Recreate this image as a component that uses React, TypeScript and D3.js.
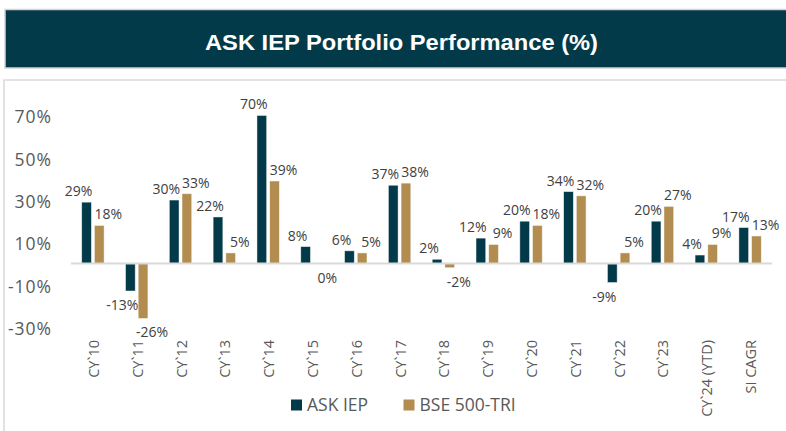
import React from 'react';
import * as d3 from 'd3';

const categories = [
  'CY`10', 'CY`11', 'CY`12', 'CY`13', 'CY`14', 'CY`15', 'CY`16', 'CY`17',
  'CY`18', 'CY`19', 'CY`20', 'CY`21', 'CY`22', 'CY`23', 'CY`24 (YTD)', 'SI CAGR',
];
const askIep = [29, -13, 30, 22, 70, 8, 6, 37, 2, 12, 20, 34, -9, 20, 4, 17];
const bse500 = [18, -26, 33, 5, 39, 0, 5, 38, -2, 9, 18, 32, 5, 27, 9, 13];
const seriesNames = ['ASK IEP', 'BSE 500-TRI'];
const yTicks = [70, 50, 30, 10, -10, -30];

const W = 786;
const H = 431;
const DARK = '#033a49';
const GOLD = '#b28d4f';
const LABEL = '#404040';
const AXIS_TEXT = '#595959';
const FONT = "'Open Sans', 'Noto Sans', sans-serif";

const App = () => {
  const x = d3.scaleBand<string>().domain(categories).range([71, 772]);
  const zeroY = 263.5;
  const perPct = 2.115;
  const y = d3.scaleLinear().domain([-30, 70]).range([zeroY + 30 * perPct, zeroY - 70 * perPct]);

  const bw = x.bandwidth();
  const sub = d3.scaleBand<string>()
    .domain(seriesNames)
    .range([bw / 2 - 11.2, bw / 2 + 11.2])
    .paddingInner(0.236);

  const series = [
    { name: seriesNames[0], values: askIep, color: DARK, dx: -8 },
    { name: seriesNames[1], values: bse500, color: GOLD, dx: 9 },
  ];

  return (
    <svg width={W} height={H} style={{ position: 'absolute', left: 0, top: 0, background: '#fff' }}>
      {/* title bar */}
      <rect x={5} y={9.5} width={W + 10} height={58.5} fill="#023a4a" stroke="#d4d4d4" strokeWidth={1.5} />
      <text
        x={401.5}
        y={50}
        textAnchor="middle"
        fill="#fff"
        fontFamily="'Liberation Sans', Arial, sans-serif"
        fontWeight="bold"
        fontSize={22.5}
        textLength={393}
        lengthAdjust="spacingAndGlyphs"
      >
        ASK IEP Portfolio Performance (%)
      </text>

      {/* chart panel */}
      <rect x={4} y={80} width={W + 10} height={H} fill="#fff" stroke="#d9d9d9" strokeWidth={1.5} />

      {/* y axis labels */}
      {yTicks.map(t => (
        <text
          key={t}
          x={52}
          y={y(t) + 8}
          textAnchor="end"
          fill={AXIS_TEXT}
          fontFamily={FONT}
          fontSize={17.5}
          letterSpacing={1}
        >
          {t}%
        </text>
      ))}

      {/* bars */}
      {series.map(s => (
        <g key={s.name}>
          {s.values.map((v, i) => {
            const bx = (x(categories[i]) ?? 0) + (sub(s.name) ?? 0);
            const top = Math.min(y(v), y(0));
            const h = Math.abs(y(v) - y(0));
            return (
              <rect
                key={i}
                x={bx}
                y={top}
                width={sub.bandwidth()}
                height={Math.max(h, 0)}
                fill={s.color}
                stroke="#fff"
                strokeOpacity={0.6}
                strokeWidth={0.75}
              />
            );
          })}
        </g>
      ))}

      {/* zero line */}
      <line x1={71} x2={772} y1={y(0)} y2={y(0)} stroke="#d9d9d9" strokeWidth={2} />

      {/* data labels */}
      {series.map(s => (
        <g key={s.name + '-lab'}>
          {s.values.map((v, i) => {
            const cx = (x(categories[i]) ?? 0) + (sub(s.name) ?? 0) + sub.bandwidth() / 2 + s.dx;
            const ly = v > 0 ? y(v) - 6 : y(v) + 19;
            return (
              <text
                key={i}
                x={cx}
                y={ly}
                textAnchor="middle"
                fill={LABEL}
                fontFamily={FONT}
                fontSize={14}
              >
                {v}%
              </text>
            );
          })}
        </g>
      ))}

      {/* category labels */}
      {categories.map(c => {
        const cx = (x(c) ?? 0) + bw / 2 + 6;
        return (
          <text
            key={c}
            transform={`translate(${cx},340) rotate(-90)`}
            textAnchor="end"
            fill={AXIS_TEXT}
            fontFamily={FONT}
            fontSize={14.5}
          >
            {c}
          </text>
        );
      })}

      {/* legend */}
      {series.map((s, i) => {
        const lx = i === 0 ? 291 : 403.5;
        return (
          <g key={s.name + '-leg'} transform={`translate(${lx},399.5)`}>
            <rect width={11} height={11} fill={s.color} />
            <text x={16} y={11.2} fill={AXIS_TEXT} fontFamily={FONT} fontSize={17.5}>
              {s.name}
            </text>
          </g>
        );
      })}
    </svg>
  );
};

export default App;
